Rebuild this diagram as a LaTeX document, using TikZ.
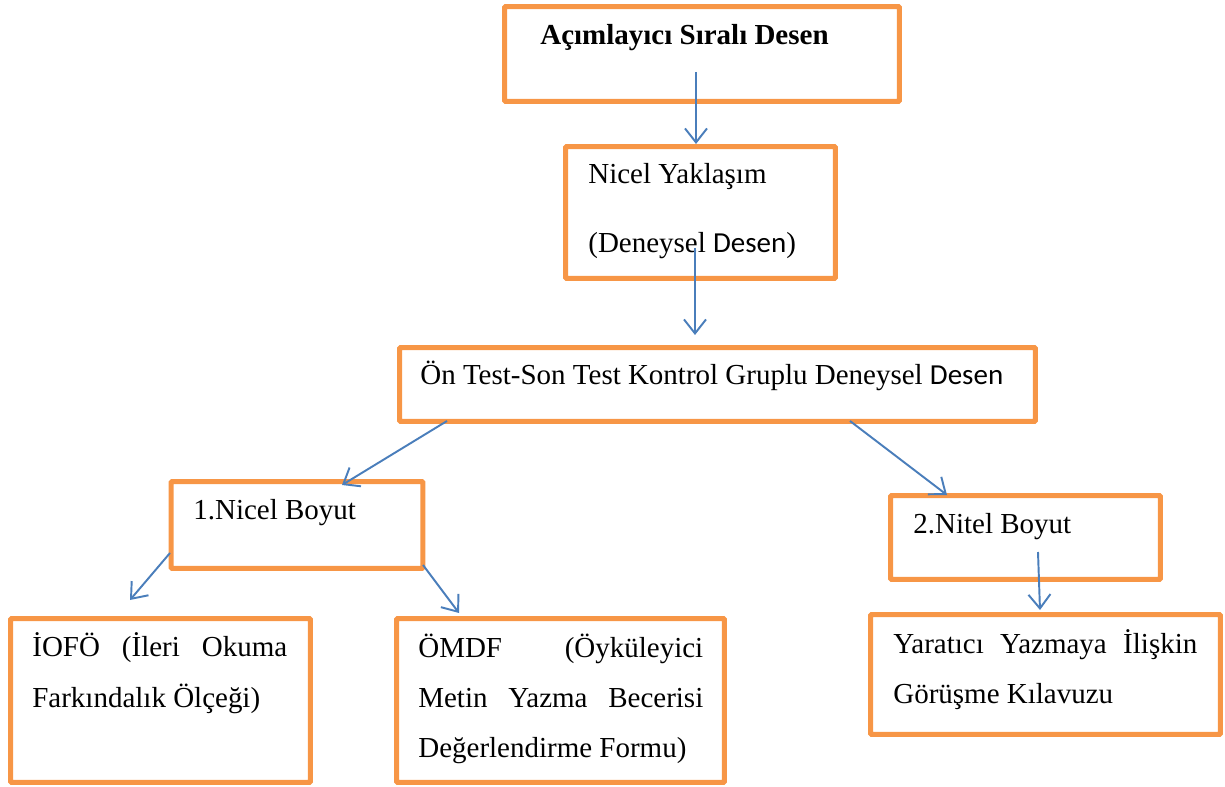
\documentclass[tikz,border=0pt]{standalone}
\usepackage{fontspec}
\setmainfont{Liberation Serif}
\newfontfamily\calibri{Carlito}
\usetikzlibrary{arrows.meta}
\definecolor{boxorange}{HTML}{F79646}
\definecolor{arrowblue}{HTML}{4A7EBB}

\begin{document}
\begin{tikzpicture}[x=0.02cm,y=-0.02cm]
\tikzset{box/.style = {draw=boxorange, line width=2.85pt, rounded corners=0.6pt, inner sep=0pt}}
\tikzset{txt/.style = {anchor=base west, inner sep=0pt, font=\fontsize{16.5}{20}\selectfont}}
\tikzset{conn/.style = {arrowblue, line width=1.1pt, -{Straight Barb[length=0.28cm,width=0.44cm]}}}
\useasboundingbox (0,0) rectangle (1225,787);
% boxes
\node[box, minimum width=7.9cm, minimum height=1.9cm] (desen) at (702,54) {};
\node[box, minimum width=5.4cm, minimum height=2.64cm] (nicel) at (700.5,212.5) {};
\node[box, minimum width=12.72cm, minimum height=1.48cm] (ontest) at (717.5,384.5) {};
\node[box, minimum width=5.04cm, minimum height=1.74cm] (nboyut) at (297,525) {};
\node[box, minimum width=5.4cm, minimum height=1.68cm] (tboyut) at (1025.5,537.5) {};
\node[box, minimum width=6.0cm, minimum height=3.28cm] (iofo) at (160.5,700.5) {};
\node[box, minimum width=6.56cm, minimum height=3.28cm] (omdf) at (560.5,700.5) {};
\node[box, minimum width=7.0cm, minimum height=2.4cm] (yaratici) at (1045.5,674.5) {};
% texts
\node[txt] (desen_t) at (540,45) {\textbf{Açımlayıcı Sıralı Desen}};
\node[txt, align=left, font=\fontsize{16.5}{39.7}\selectfont] (nicel_t) at (588,253) {Nicel Yaklaşım\\(Deneysel {\calibri Desen})};
\node[txt] (ontest_t) at (420,385) {Ön Test-Son Test Kontrol Gruplu Deneysel {\calibri Desen}};
\node[txt] (nboyut_t) at (193,520) {1.Nicel Boyut};
\node[txt] (tboyut_t) at (913,533) {2.Nitel Boyut};
\node[txt, text width=5.1cm, align=justify, font=\fontsize{16.5}{29.5}\selectfont] (iofo_t) at (32,656) {İOFÖ (İleri Okuma\linebreak Farkındalık Ölçeği)};
\node[txt, text width=5.7cm, align=justify, font=\fontsize{16.5}{28.5}\selectfont] (omdf_t) at (418,657) {ÖMDF (Öyküleyici\linebreak Metin Yazma Becerisi\linebreak Değerlendirme Formu)};
\node[txt, text width=6.08cm, align=justify, font=\fontsize{16.5}{28.5}\selectfont] (yaratici_t) at (893,653) {Yaratıcı Yazmaya İlişkin\linebreak Görüşme Kılavuzu};
% connector ends
\coordinate (a1) at (696,72);    \coordinate (b1) at (696,144);
\coordinate (a2) at (695,248);   \coordinate (b2) at (695,335);
\coordinate (a3) at (447,421);   \coordinate (b3) at (342,485);
\coordinate (a4) at (850,421);   \coordinate (b4) at (947,495);
\coordinate (a5) at (170,553);   \coordinate (b5) at (130,600);
\coordinate (a6) at (423,565);   \coordinate (b6) at (459,613);
\coordinate (a7) at (1038,552);  \coordinate (b7) at (1040,610);
\draw[conn] (a1) to (b1);
\draw[conn] (a2) to (b2);
\draw[conn] (a3) to (b3);
\draw[conn] (a4) to (b4);
\draw[conn] (a5) to (b5);
\draw[conn] (a6) to (b6);
\draw[conn] (a7) to (b7);
\end{tikzpicture}
\end{document}
